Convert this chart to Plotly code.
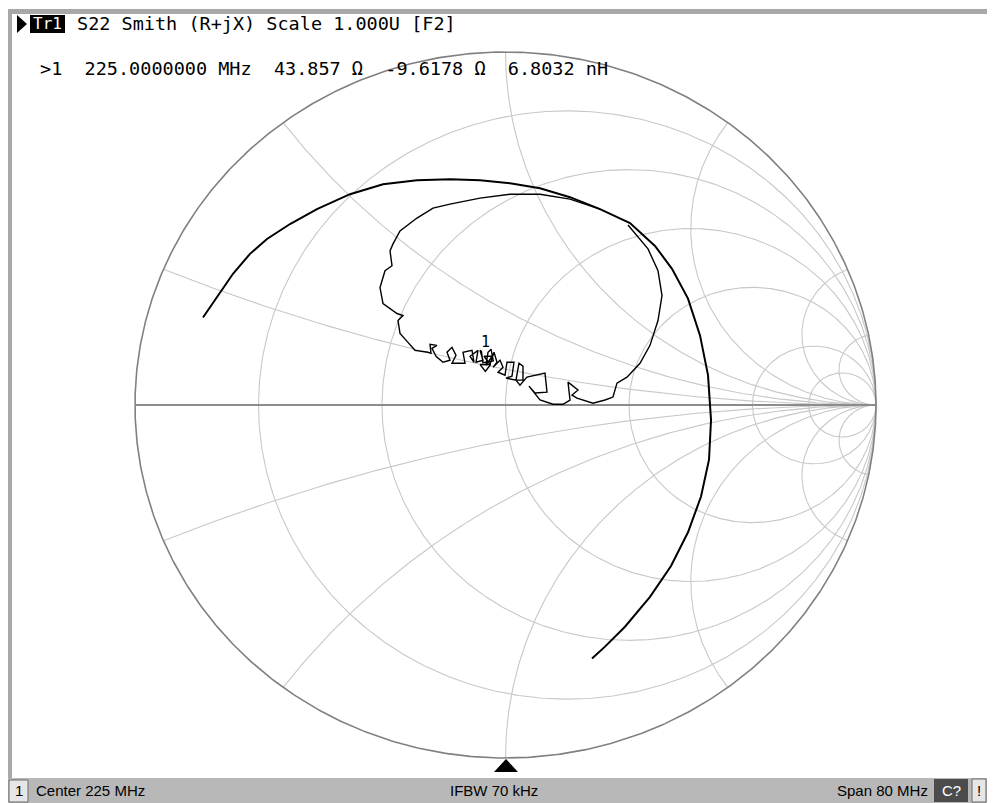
import numpy as np
import plotly.graph_objects as go

# ---------------- data (reflection coefficient Γ) ----------------
# outer arc of the S22 trace (start at left, over the top, down the right side)
outer_re = [-0.8165, -0.7787, -0.7355, -0.6896, -0.6437, -0.5816, -0.5088, -0.4197, -0.3306,
            -0.2389, -0.1498, -0.0688, 0.0121, 0.0931, 0.1741, 0.2551,
            0.3360, 0.4035, 0.4494, 0.4926, 0.5250, 0.5466, 0.5547, 0.5493, 0.5277,
            0.4926, 0.4467, 0.3900, 0.3225, 0.2686, 0.2335]
outer_im = [0.2479, 0.3042, 0.3718, 0.4282, 0.4704, 0.5127, 0.5549, 0.5972, 0.6254,
            0.6366, 0.6394, 0.6366, 0.6282, 0.6141, 0.5887, 0.5549,
            0.5155, 0.4507, 0.3859, 0.3014, 0.1972, 0.0845, -0.0423, -0.1549, -0.2592,
            -0.3606, -0.4563, -0.5437, -0.6282, -0.6845, -0.7183]

# inner noisy loop of the trace (right side down, cluster right-to-left, left side up)
inner_re = [0.3306, 0.3846, 0.4116, 0.4224, 0.4116, 0.3900, 0.3630, 0.3279, 0.3009, 0.2901,
            0.2686, 0.2362,
            0.1930, 0.1795, 0.1957, 0.1687, 0.1741, 0.1552, 0.1282, 0.0931, 0.0634, 0.0796,
            0.1120, 0.1066, 0.0580, 0.0391, 0.0283, 0.0472, 0.0472, 0.0364, 0.0283, 0.0013,
            0.0175, 0.0229, 0.0040, -0.0013, -0.0202, -0.0067, -0.0148, -0.0337, -0.0229,
            -0.0310, -0.0418, -0.0580, -0.0364, -0.0526, -0.0472, -0.0390, -0.0330, -0.0610,
            -0.0650, -0.0688, -0.0607, -0.0796,
            -0.0742, -0.0958, -0.0850, -0.0904, -0.1147, -0.1093, -0.1444, -0.1336, -0.1444,
            -0.1579, -0.1498, -0.1687, -0.1876, -0.1984, -0.1849, -0.2038, -0.2011, -0.2092,
            -0.2443, -0.2632, -0.2847, -0.2901, -0.2767, -0.2928,
            -0.3306, -0.3387, -0.3252, -0.3063, -0.3117, -0.3036, -0.2847, -0.2389, -0.1957,
            -0.1498, -0.0688, 0.0121, 0.0931, 0.1741, 0.2551]
inner_im = [0.5099, 0.4423, 0.3803, 0.3099, 0.2394, 0.1690, 0.1183, 0.0789, 0.0620, 0.0225,
            0.0141, 0.0050,
            0.0197, 0.0282, 0.0423, 0.0648, 0.0141, 0.0020, 0.0020, 0.0141, 0.0535, 0.0338,
            0.0366, 0.0901, 0.0789, 0.0563, 0.0704, 0.0704, 0.1099, 0.1183, 0.0704, 0.0761,
            0.0817, 0.1211, 0.1211, 0.0845, 0.0930, 0.1070, 0.1268, 0.1070, 0.1211,
            0.1493, 0.1155, 0.1380, 0.1380, 0.1127, 0.1493, 0.1580, 0.1250, 0.1200,
            0.1520, 0.1549, 0.1268, 0.1211,
            0.1549, 0.1380, 0.1211, 0.1549, 0.1493, 0.1183, 0.1183, 0.1408, 0.1634,
            0.1493, 0.1268, 0.1211, 0.1380, 0.1606, 0.1690, 0.1718, 0.1465, 0.1493,
            0.1549, 0.1775, 0.2028, 0.2394, 0.2535, 0.2592,
            0.2873, 0.3324, 0.3803, 0.3944, 0.4366, 0.4563, 0.4930, 0.5296, 0.5578,
            0.5690, 0.5859, 0.5972, 0.5972, 0.5831, 0.5549]

# marker 1 readout
Z0 = 50.0
marker_R = 43.857
marker_X = 9.6178
marker_label = "1"

# Smith grid values
r_values = [0.2, 0.5, 1, 2, 5, 10]
x_values = [0.2, 0.5, 1, 2, 5, 10]

# texts
trace_tag = "Tr1"
header_text = "S22 Smith (R+jX) Scale 1.000U [F2]"
marker_text = ">1  225.0000000 MHz  43.857 Ω  -9.6178 Ω  6.8032 nH"
status_channel = "1"
status_left = "Center 225 MHz"
status_mid = "IFBW 70 kHz"
status_right = "Span 80 MHz"
status_cal = "C?"
status_warn = "!"

# ---------------- layout geometry (screen pixels) ----------------
OX, OY = 8, 8            # page body margin: the figure starts here on screen
FW, FH = 995 - OX, 803 - OY
CX, CY, RX, RY = 505.5, 405.0, 370.5, 353.0
LIM = 1.05


def px(x):
    return (x - OX) / FW


def py(y):
    return 1 - (y - OY) / FH


fig = go.Figure()

# grid
t = np.linspace(0, 2 * np.pi, 721)
gx, gy = [], []
for r in r_values:
    c = r / (1 + r)
    rad = 1 / (1 + r)
    gx += list(c + rad * np.cos(t)) + [None]
    gy += list(rad * np.sin(t)) + [None]
rs = np.concatenate([np.linspace(0, 2, 400), np.logspace(np.log10(2), 4, 400)[1:]])
for xv in x_values:
    for s in (1, -1):
        z = rs + 1j * s * xv
        g = (z - 1) / (z + 1)
        gx += list(g.real) + [None]
        gy += list(g.imag) + [None]
fig.add_trace(go.Scatter(x=gx, y=gy, mode="lines", line=dict(color="#c8c8c8", width=1.1),
                         hoverinfo="skip"))
fig.add_trace(go.Scatter(x=np.cos(t), y=np.sin(t), mode="lines",
                         line=dict(color="#808080", width=1.6), hoverinfo="skip"))
fig.add_trace(go.Scatter(x=[-1, 1], y=[0, 0], mode="lines",
                         line=dict(color="#8c8c8c", width=2), hoverinfo="skip"))

# measured trace
fig.add_trace(go.Scatter(x=inner_re, y=inner_im, mode="lines",
                         line=dict(color="#000000", width=1.4)))
fig.add_trace(go.Scatter(x=outer_re, y=outer_im, mode="lines",
                         line=dict(color="#000000", width=2)))

# marker
zm = complex(marker_R, marker_X) / Z0
gm = (zm - 1) / (zm + 1)
fig.add_trace(go.Scatter(x=[gm.real], y=[gm.imag], mode="markers",
                         marker=dict(symbol="triangle-down-open", size=9, color="#000000",
                                     line=dict(color="#000000", width=1.5))))
annotations = [dict(x=gm.real, y=gm.imag, xref="x", yref="y", text=marker_label,
                    showarrow=False, yshift=25,
                    font=dict(family="DejaVu Sans Mono", size=15, color="#000000"))]

# header
annotations.append(dict(x=px(47.5), y=py(24), xref="paper", yref="paper", text=trace_tag,
                        showarrow=False, xanchor="center", yanchor="middle",
                        font=dict(family="DejaVu Sans Mono", size=16, color="#ffffff")))
annotations.append(dict(x=px(75), y=py(24), xref="paper", yref="paper", text=header_text,
                        showarrow=False, xanchor="left", yanchor="middle",
                        font=dict(family="DejaVu Sans Mono", size=18.5, color="#000000")))
annotations.append(dict(x=px(38), y=py(69), xref="paper", yref="paper", text=marker_text,
                        showarrow=False, xanchor="left", yanchor="middle",
                        font=dict(family="DejaVu Sans Mono", size=18.5, color="#000000")))

# status bar texts
sfont = dict(family="Liberation Sans Narrow, Liberation Sans", size=15, color="#000000")
annotations += [
    dict(x=px(18.5), y=py(790), xref="paper", yref="paper", text=status_channel,
         showarrow=False, xanchor="center", yanchor="middle", font=sfont),
    dict(x=px(34), y=py(790), xref="paper", yref="paper", text=status_left,
         showarrow=False, xanchor="left", yanchor="middle", font=sfont),
    dict(x=px(494), y=py(790), xref="paper", yref="paper", text=status_mid,
         showarrow=False, xanchor="center", yanchor="middle", font=sfont),
    dict(x=px(930), y=py(790), xref="paper", yref="paper", text=status_right,
         showarrow=False, xanchor="right", yanchor="middle", font=sfont),
    dict(x=px(951), y=py(790), xref="paper", yref="paper", text=status_cal,
         showarrow=False, xanchor="center", yanchor="middle",
         font=dict(family="Liberation Sans Narrow, Liberation Sans", size=15, color="#ffffff")),
    dict(x=px(979), y=py(790), xref="paper", yref="paper", text=status_warn,
         showarrow=False, xanchor="center", yanchor="middle", font=sfont),
]


def rect(x0, y0, x1, y1, fill, line=None, lw=0):
    return dict(type="rect", xref="paper", yref="paper", x0=px(x0), x1=px(x1),
                y0=py(y1), y1=py(y0), fillcolor=fill,
                line=dict(color=line or fill, width=lw), layer="above")


def path(pts, fill):
    d = "M " + " L ".join(f"{px(a):.5f},{py(b):.5f}" for a, b in pts) + " Z"
    return dict(type="path", xref="paper", yref="paper", path=d, fillcolor=fill,
                line=dict(color=fill, width=0), layer="above")


shapes = [
    # window frame
    rect(8, 9, 995, 14, "#a8a8a8"),
    rect(8, 9, 12, 778, "#a8a8a8"),
    # status bar
    rect(8, 778, 995, 803, "#b8b8b8"),
    rect(9, 780, 28, 802, "#e6e6e6", "#6a6a6a", 1),
    rect(934, 779, 968, 802, "#4c4c4c"),
    rect(972, 779, 986, 802, "#e6e6e6", "#6a6a6a", 1),
    # Tr1 tag
    rect(30, 15, 65, 33, "#000000"),
    path([(17, 15), (27, 24), (17, 33)], "#000000"),
    # stimulus indicator triangle at bottom
    path([(494, 772), (518, 772), (506, 759)], "#000000"),
]

fig.update_layout(
    width=FW, height=FH,
    margin=dict(l=0, r=0, t=0, b=0, pad=0),
    paper_bgcolor="#ffffff", plot_bgcolor="#ffffff",
    showlegend=False,
    xaxis=dict(domain=[px(CX - RX * LIM), px(CX + RX * LIM)], range=[-LIM, LIM],
               visible=False, fixedrange=True),
    yaxis=dict(domain=[py(CY + RY * LIM), py(CY - RY * LIM)], range=[-LIM, LIM],
               visible=False, fixedrange=True),
    annotations=annotations,
    shapes=shapes,
)

fig.write_html("out.html", config={"displayModeBar": False})
